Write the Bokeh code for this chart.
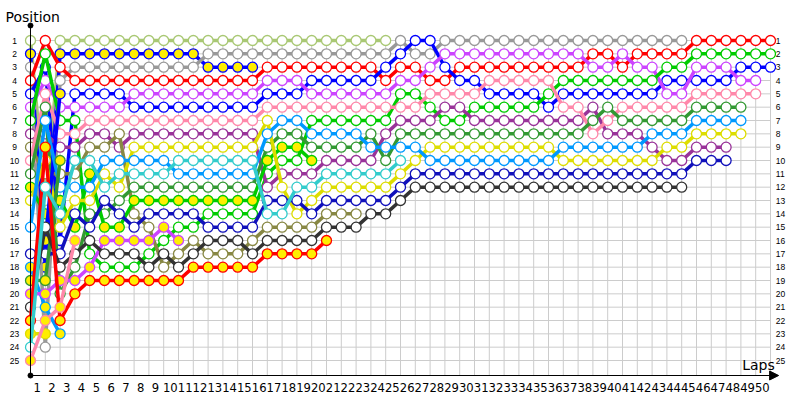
from bokeh.plotting import figure
from bokeh.models import Range1d, Arrow, NormalHead
from bokeh.core.properties import value
from bokeh.embed import file_html
from bokeh.resources import INLINE

# ---------------- data ----------------
drivers = ["OL", "BY", "GR", "RD", "BL", "VI", "GN", "PU", "OV", "PK", "DG", "GY", "YE",
           "B2", "LB", "NV", "LY", "G2", "VY", "DK", "RY", "YY", "CY", "PY"]
line_colors = ["#a9c874", "#0000ff", "#999999", "#ff0000", "#0000ff", "#cc44ff", "#00cc00",
               "#993399", "#888844", "#ff88aa", "#339933", "#00cc00", "#dddd00", "#0000ff",
               "#0099ff", "#1111bb", "#0099ff", "#339933", "#cc44ff", "#333333",
               "#ff0000", "#dddd00", "#33cccc", "#ff88aa"]
fill_colors = ["white", "#ffee00", "white", "white", "white", "white", "white",
               "white", "white", "white", "white", "#ffee00", "white", "#ffee00",
               "white", "white", "#ffee00", "#ffee00", "#ffee00", "white",
               "#ffee00", "#ffee00", "white", "#ffee00"]

# running order (P1 first) after each lap, lap 0 = starting grid ("--" = empty slot)
running_order = [
    "OL BY GR RD BL VI GN PU OV PK DG GY YE -- LB -- NV LY G2 VY DK RY YY CY PY",  # 0
    "RD GN BL VI PK DG LB PU RY YE OV CY OL GY DK B2 NV BY G2 VY LY PY YY GR",     # 1
    "OL BY RD GR B2 VI GN PK PU G2 OV LB GY CY YE BL NV DK VY DG PY RY LY",        # 2
    "OL BY GR RD BL VI GN PK PU CY OV LB YE NV GY PY DK DG VY RY",                 # 3
    "OL BY GR RD BL VI PK PU OV CY GY LB YE DG NV DK GN VY RY",                    # 4
    "OL BY GR RD BL VI PK PU OV LB YE CY NV DG GY VY DK GN RY",                    # 5
    "OL BY GR RD BL VI PK OV PU LB CY YE DG NV GY VY DK GN RY",                    # 6
    "OL BY GR RD VI BL PK PU YE LB CY DG GY OV NV VY DK GN RY",                    # 7
    "OL BY GR RD VI BL PK PU YE LB CY DG GY NV OV VY GN DK RY",                    # 8
    "OL BY GR RD VI BL PK PU YE LB CY DG GY NV VY GN DK OV RY",                    # 9
    "OL BY GR RD VI BL PK PU YE CY LB DG GY NV GN VY OV DK RY",                    # 10
    "OL BY GR RD VI BL PK PU YE CY LB DG GY NV GN OV DK RY",                       # 11
    "OL GR BY RD VI BL PK PU YE CY LB DG GY GN NV DK OV RY",                       # 12
    "OL GR BY RD VI BL PK PU YE CY LB DG GY GN NV DK OV RY",                       # 13
    "OL GR BY RD VI BL PK PU YE CY LB DG GY GN NV DK OV RY",                       # 14
    "OL GR BY RD VI BL PK PU YE CY LB DG GY GN NV OV DK RY",                       # 15
    "OL GR RD VI BL PK YE LB DG GY GN PU NV CY OV DK RY",                          # 16
    "OL GR RD VI BL PK LB DG GY GN PU YE NV CY OV DK RY",                          # 17
    "OL GR RD VI BL PK LB DG GY GN PU CY NV YE OV DK RY",                          # 18
    "OL GR RD BL VI PK GN LB DG GY PU CY YE NV OV DK RY",                          # 19
    "OL GR RD BL VI PK GN LB DG PU CY YE NV OV DK RY",                             # 20
    "OL GR RD BL VI PK GN LB DG PU CY YE NV OV DK",                                # 21
    "OL GR RD BL VI PK GN LB DG PU CY YE NV OV DK",                                # 22
    "OL GR RD BL VI PK GN DG LB PU CY YE NV DK",                                   # 23
    "OL GR BL RD VI PK GN PU LB DG CY YE NV DK",                                   # 24
    "GR BL RD VI GN PK PU DG LB CY YE NV DK",                                      # 25
    "BL GR RD VI GN PK PU DG LB YE NV DK",                                         # 26
    "BL GR VI RD PK GN PU DG YE LB NV DK",                                         # 27
    "GR VI BL RD PK PU GN DG YE LB NV DK",                                         # 28
    "GR VI RD BL PK PU GN DG YE LB NV DK",                                         # 29
    "GR VI RD BL PK GN PU DG YE LB NV DK",                                         # 30
    "GR VI RD PK BL GN PU DG YE LB NV DK",                                         # 31
    "GR VI RD PK BL GN PU DG YE LB NV DK",                                         # 32
    "GR VI RD PK BL GN PU DG YE LB NV DK",                                         # 33
    "GR VI RD PK BL GN PU DG YE LB NV DK",                                         # 34
    "GR VI RD PK GN BL PU DG YE LB NV DK",                                         # 35
    "GR VI RD GN BL PK PU DG LB YE NV DK",                                         # 36
    "GR VI RD GN BL PK PU DG LB YE NV DK",                                         # 37
    "GR RD VI GN BL PU DG PK LB YE NV DK",                                         # 38
    "GR RD VI GN BL DG PK PU LB YE NV DK",                                         # 39
    "GR VI RD GN BL PK DG PU LB YE NV DK",                                         # 40
    "GR RD VI GN BL PK DG PU LB YE NV DK",                                         # 41
    "GR RD VI GN BL PK DG LB PU YE NV DK",                                         # 42
    "GR RD GN BL VI PK DG LB YE PU NV DK",                                         # 43
    "GR RD GN BL VI PK DG LB YE PU NV DK",                                         # 44
    "RD GN VI BL PK DG LB YE PU NV",                                               # 45
    "RD GN VI BL PK DG LB YE PU NV",                                               # 46
    "RD GN VI BL PK DG LB YE PU NV",                                               # 47
    "RD GN BL VI PK DG LB YE",                                                     # 48
    "RD GN BL VI PK",                                                              # 49
    "RD GN BL",                                                                    # 50
]

lap_numbers = list(range(0, 51))
lap_labels = [str(k) for k in range(1, 51)]
position_labels = [str(k) for k in range(1, 26)]
positions = list(range(1, 26))

# ---------------- figure ----------------
p = figure(width=800, height=400,
           x_range=Range1d(-2.027, 52.027), y_range=Range1d(28.0, -2.0),
           min_border=0, toolbar_location=None, output_backend="svg",
           x_axis_location=None, y_axis_location=None)
p.xgrid.visible = False
p.ygrid.visible = False
p.outline_line_color = None
p.background_fill_color = "white"
p.border_fill_color = "white"

AXIS_Y = 26.125
TOP_Y = -0.125
GRID = "#cccccc"

# grid lines
p.segment(x0=lap_numbers, y0=[1] * len(lap_numbers), x1=lap_numbers, y1=[AXIS_Y] * len(lap_numbers),
          line_color=GRID, line_width=1)
p.segment(x0=[0] * len(positions), y0=positions, x1=[50] * len(positions), y1=positions,
          line_color=GRID, line_width=1)

# driver lines and markers
orders = [s.split() for s in running_order]
for d, lc, fc in zip(drivers, line_colors, fill_colors):
    xs, ys = [], []
    for lap, order in enumerate(orders):
        if d in order:
            xs.append(lap)
            ys.append(order.index(d) + 1)
    p.line(xs, ys, line_color=lc, line_width=3.5)
    p.scatter(xs, ys, marker="circle", size=10, fill_color=fc, line_color=lc, line_width=1.3)

# axes
p.segment(x0=[0], y0=[TOP_Y], x1=[0], y1=[AXIS_Y], line_color="black", line_width=1)
p.scatter([0, 0], [TOP_Y, AXIS_Y], marker="circle", size=5, color="black")
p.add_layout(Arrow(end=NormalHead(size=9, fill_color="black", line_color="black"),
                   x_start=0, y_start=AXIS_Y, x_end=50.55, y_end=AXIS_Y,
                   line_color="black", line_width=1))

# tick labels
p.text(x=[-1.08] * 25, y=positions, text=position_labels,
       text_font=value("Liberation Sans"), text_font_size=value("8.5px"),
       text_align="center", text_baseline="middle", text_color="black")
p.text(x=[50.36] * 25, y=positions, text=position_labels,
       text_font=value("Liberation Sans"), text_font_size=value("8.5px"),
       text_align="left", text_baseline="middle", text_color="black")
p.text(x=[k - 0.55 for k in range(1, 51)], y=[27.06] * 50, text=lap_labels,
       text_font=value("DejaVu Sans"), text_font_size=value("11.6px"),
       text_align="center", text_baseline="middle", text_color="black")

# axis titles
p.text(x=[-1.69], y=[-0.8], text=["Position"], text_font=value("DejaVu Sans"),
       text_font_size=value("14px"), text_align="left", text_baseline="middle", text_color="black")
p.text(x=[49.19], y=[25.3], text=["Laps"], text_font=value("DejaVu Sans"),
       text_font_size=value("14px"), text_align="center", text_baseline="middle", text_color="black")

open("out.html", "w").write(file_html(p, INLINE))
